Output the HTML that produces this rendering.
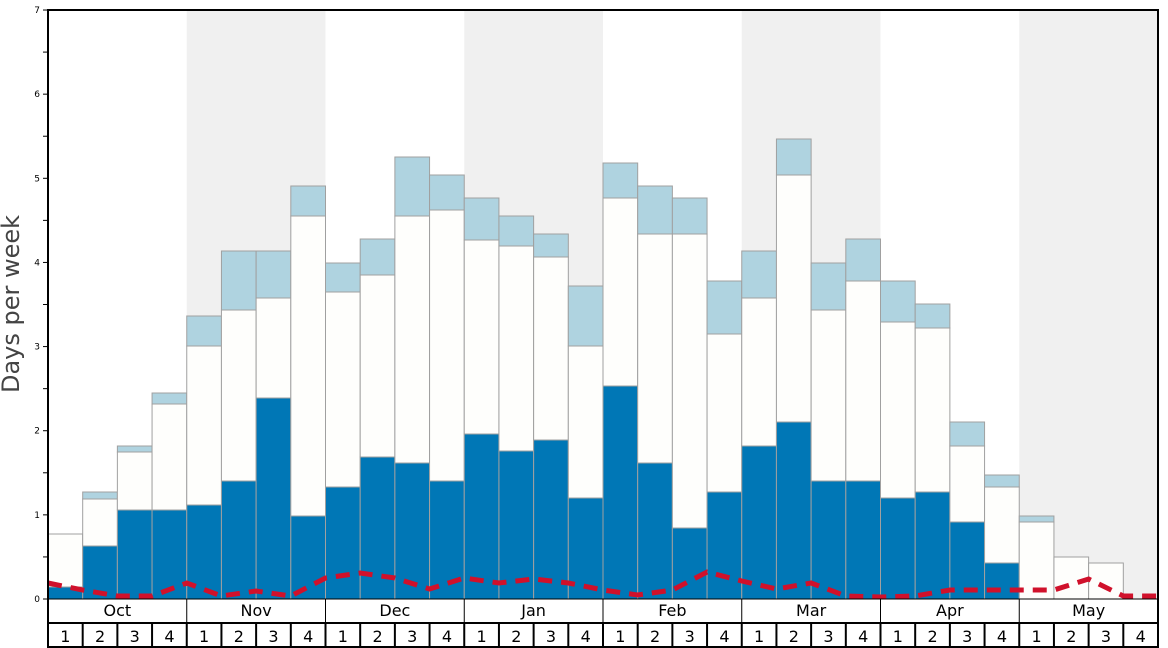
<!DOCTYPE html>
<html><head><meta charset="utf-8"><style>
html,body{margin:0;padding:0;background:#fff;}
svg{display:block;font-family:"DejaVu Sans","Liberation Sans",sans-serif;}
</style></head><body>
<svg width="1168" height="648" viewBox="0 0 1168 648">
<rect x="0" y="0" width="1168" height="648" fill="#fff"/>
<g id="bands" fill="#f0f0f0"></g>
<g id="bars"></g>
<polyline id="red" fill="none" stroke="#d0112b" stroke-width="5" stroke-dasharray="14,9" points=""/>
<g id="axis" font-size="9" fill="#000"></g>
<text x="19" y="304" font-size="24" fill="#444" text-anchor="middle" transform="rotate(-90 19 304)">Days per week</text>
<g id="bottom" font-size="16" fill="#000"></g>
<rect x="48" y="10" width="1110" height="637" fill="none" stroke="#000" stroke-width="2"/>
</svg>
<script>
var ns="http://www.w3.org/2000/svg";
function el(t,a,p,txt){var e=document.createElementNS(ns,t);for(var k in a)e.setAttribute(k,a[k]);if(txt!=null)e.textContent=txt;document.getElementById(p).appendChild(e);return e;}
var X0=48,W=1110/32;
[[4,8],[12,16],[20,24],[28,32]].forEach(function(b){el('rect',{x:X0+b[0]*W,y:10,width:(b[1]-b[0])*W,height:589},'bands');});
var d=[[587,534,534],[546,499,492],[510,452,446],[510,404,393],[505,346,316],[481,310,251],[398,298,251],[516,216,186],[487,292,263],[457,275,239],[463,216,157],[481,210,175],[434,240,198],[451,246,216],[440,257,234],[498,346,286],[386,198,163],[463,234,186],[528,234,198],[492,334,281],[446,298,251],[422,175,139],[481,310,263],[481,281,239],[498,322,281],[492,328,304],[522,446,422],[563,487,475],[599,522,516],[599,557,557],[599,563,563]];
d.forEach(function(v,i){var x=X0+i*W;
 if(v[2]<v[1])el('rect',{x:x,y:v[2],width:W,height:v[1]-v[2],fill:'#afd3e0',stroke:'#a0a0a0','stroke-width':1},'bars');
 if(v[1]<v[0])el('rect',{x:x,y:v[1],width:W,height:v[0]-v[1],fill:'#fefefc',stroke:'#a0a0a0','stroke-width':1},'bars');
 if(v[0]<599)el('rect',{x:x,y:v[0],width:W,height:599-v[0],fill:'#0077b6',stroke:'#a0a0a0','stroke-width':1},'bars');
});
var r=[583,590,596,596,583,596,591,596,578,573,578,589,578,583,579,583,590,595,590,572,581,589,583,596,597,596,590,590,590,590,579,596,596];
document.getElementById('red').setAttribute('points',r.map(function(y,i){return (X0+i*W).toFixed(1)+','+y;}).join(' '));
for(var k=0;k<=14;k++){var y=599-k*84.14/2;
 el('line',{x1:43,x2:48,y1:y,y2:y,stroke:'#000','stroke-width':1},'axis');
 if(k%2==0)el('text',{x:40,y:y+3,'text-anchor':'end'},'axis',k/2);}
el('line',{x1:48,x2:1158,y1:599,y2:599,stroke:'#000','stroke-width':1},'bottom');
el('line',{x1:48,x2:1158,y1:623,y2:623,stroke:'#000','stroke-width':2},'bottom');
var m=['Oct','Nov','Dec','Jan','Feb','Mar','Apr','May'];
m.forEach(function(n,j){var x=X0+j*4*W;
 if(j>0)el('line',{x1:x,x2:x,y1:599,y2:623,stroke:'#000','stroke-width':1},'bottom');
 el('text',{x:x+2*W,y:616,'text-anchor':'middle'},'bottom',n);});
for(var i=0;i<32;i++){var x=X0+i*W;
 if(i>0)el('line',{x1:x,x2:x,y1:623,y2:647,stroke:'#000','stroke-width':2},'bottom');
 el('text',{x:x+W/2,y:642,'text-anchor':'middle'},'bottom',(i%4)+1);}
</script>
</body></html>
